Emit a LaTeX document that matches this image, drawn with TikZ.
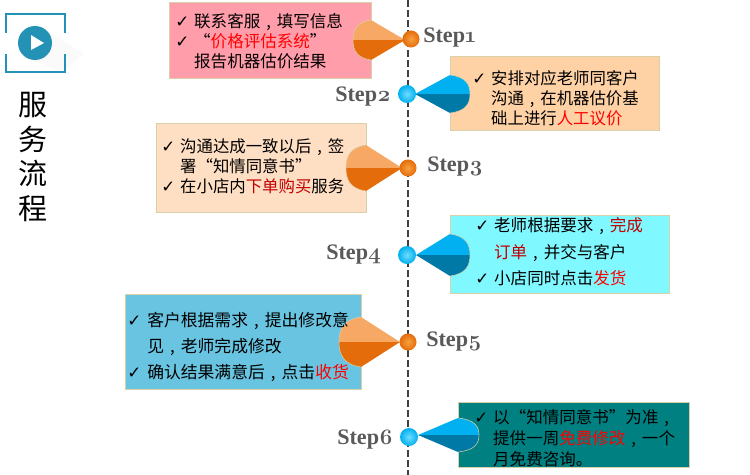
\documentclass[tikz,border=0pt]{standalone}
\usepackage{fontspec}
\usepackage{array}
\setmainfont{Liberation Serif}
\newfontfamily\cjk{Noto Sans CJK SC}
\newfontfamily\symb{DejaVu Sans}
\newfontfamily\oldnum[Numbers=OldStyle]{Latin Modern Roman}
\definecolor{boxa}{HTML}{FF9EAA}
\definecolor{boxb}{HTML}{FFD2A6}
\definecolor{boxc}{HTML}{FFDFC4}
\definecolor{boxd}{HTML}{80F8FF}
\definecolor{boxe}{HTML}{69C4E2}
\definecolor{boxf}{HTML}{008080}
\definecolor{rimcol}{HTML}{D9CFA8}
\definecolor{orglight}{HTML}{F7A864}
\definecolor{orgdark}{HTML}{E46C0A}
\definecolor{orgglow}{HTML}{F9A040}
\definecolor{blulight}{HTML}{00B0F0}
\definecolor{bludark}{HTML}{0079A6}
\definecolor{bluglow}{HTML}{70DCFF}
\definecolor{iconcol}{HTML}{2392B5}
\definecolor{stepcol}{HTML}{595959}
\definecolor{redhi}{HTML}{FF0000}
\definecolor{redlo}{HTML}{C00000}
\newcommand{\tick}{{\symb\fontsize{12.5}{12.5}\selectfont ✓}}
\newcommand{\cma}{\makebox[1em][c]{,}}
\newcommand{\hi}[1]{\textcolor{redhi}{#1}}
\newcommand{\lo}[1]{\textcolor{redlo}{#1}}
\newcommand{\stepnum}[1]{{\oldnum\bfseries #1}}
% tip x, corner x, bulge x, y, half height, light, dark
\newcommand{\drop}[7]{
    \fill[#6] (#1,#4) -- (#2,#4-#5) .. controls ({#2+0.8*(#3-#2)},{#4-#5+0.1*#5}) and (#3,{#4-0.5*#5}) .. (#3,#4) -- cycle;
    \fill[#7] (#1,#4) -- (#2,#4+#5) .. controls ({#2+0.8*(#3-#2)},{#4+#5-0.1*#5}) and (#3,{#4+0.5*#5}) .. (#3,#4) -- cycle;
    \draw[rimcol, thin] (#2,#4-#5) .. controls ({#2+0.8*(#3-#2)},{#4-#5+0.1*#5}) and (#3,{#4-0.5*#5}) .. (#3,#4)
        .. controls (#3,{#4+0.5*#5}) and ({#2+0.8*(#3-#2)},{#4+#5-0.1*#5}) .. (#2,#4+#5);
}

\begin{document}
\begin{tikzpicture}[x=0.75pt, y=-0.75pt,
                    panel/.style={rectangle, draw=rimcol, line width=0.7pt, inner sep=0pt},
                    lines/.style={anchor=west, inner sep=0pt, text=black},
                    steplabel/.style={anchor=west, inner sep=0pt, text=stepcol, font=\bfseries\fontsize{16.6}{18}\selectfont},
                    orgball/.style={circle, inner color=orgglow, outer color=orgdark, minimum size=12.8pt, inner sep=0pt},
                    bluball/.style={circle, inner color=bluglow, outer color=blulight, minimum size=13.5pt, inner sep=0pt}]
\useasboundingbox (0,0) rectangle (750,475);

% Icon
\fill[black!2] (46,30) -- (84,54) -- (62,72) -- (30,59) -- cycle;
\draw[iconcol, line width=0.9pt] (6,33) -- (6,14) -- (65,14) -- (65,33);
\draw[iconcol, line width=0.9pt] (6,54) -- (6,72) -- (65,72) -- (65,54);
\node[circle, fill=iconcol, minimum size=25.5pt, inner sep=0pt] (icon) at (35,43) {};
\fill[white] (31,35) -- (44,43) -- (31,50) -- cycle;

% Title
\node[align=center, inner sep=0pt, font=\cjk\fontsize{21.75}{26.2}\selectfont] (title) at (33,157) {服\\务\\流\\程};

% Center line
\coordinate (top) at (408,0);
\coordinate (bottom) at (408,475);
\draw[black!75, line width=1.2pt, dash pattern=on 5pt off 2.5pt] (top) -- (bottom);

% Panels
\foreach \n/\x/\y/\w/\h/\c in {1/270/40/151.5/57/boxa, 2/554.75/93/156.4/55.5/boxb, 3/261/167.75/157.5/66.4/boxc,
                               4/559.5/254/164.25/58.5/boxd, 5/243/341.5/177/71.25/boxe, 6/573.5/434.5/173.25/48.75/boxf} {
    \node[panel, fill=\c, minimum width=\w pt, minimum height=\h pt] (box\n) at (\x,\y) {};
}

% Drops
\drop{405}{371}{353}{40}{20}{orglight}{orgdark}
\drop{415}{450}{470}{94}{19}{blulight}{bludark}
\drop{402}{366}{346}{168}{23}{orglight}{orgdark}
\drop{416}{450}{470}{255}{21}{blulight}{bludark}
\drop{400}{361}{339}{342}{25}{orglight}{orgdark}
\drop{418}{458}{479}{435}{17}{blulight}{bludark}

% Balls
\node[orgball] (ball1) at (411,39) {};
\node[bluball] (ball2) at (407,94) {};
\node[orgball] (ball3) at (408,168) {};
\node[bluball] (ball4) at (407,255) {};
\node[orgball] (ball5) at (408,342) {};
\node[bluball] (ball6) at (409,437) {};

% Step labels
\node[steplabel] (step1) at (423,38) {Step\stepnum{1}};
\node[steplabel] (step2) at (335,97) {Step\stepnum{2}};
\node[steplabel] (step3) at (427,167) {Step\stepnum{3}};
\node[steplabel] (step4) at (326,255) {Step\stepnum{4}};
\node[steplabel] (step5) at (426,342) {Step\stepnum{5}};
\node[steplabel] (step6) at (337,440) {Step\stepnum{6}};

% Texts
\node[lines, font=\cjk\fontsize{12.4}{14.6}\selectfont] (text1) at (175,43.5) {%
    \begin{tabular}{@{}p{14.2pt}@{}l@{}}
    \tick & 联系客服\cma 填写信息\\
    \tick & “\hi{价格评估系统}”\\
     & 报告机器估价结果
    \end{tabular}};
\node[lines, font=\cjk\fontsize{12.3}{15}\selectfont] (text2) at (472,100) {%
    \begin{tabular}{@{}p{14.2pt}@{}l@{}}
    \tick & 安排对应老师同客户\\
     & 沟通\cma 在机器估价基\\
     & 础上进行\hi{人工议价}
    \end{tabular}};
\node[lines, font=\cjk\fontsize{12.3}{15.3}\selectfont] (text3) at (161,168.5) {%
    \begin{tabular}{@{}p{14.2pt}@{}l@{}}
    \tick & 沟通达成一致以后\cma 签\\
     & 署“知情同意书”\\
    \tick & 在小店内\lo{下单购买}服务
    \end{tabular}};
\node[lines, font=\cjk\fontsize{12.4}{19.8}\selectfont] (text4) at (475,253) {%
    \begin{tabular}{@{}p{14.2pt}@{}l@{}}
    \tick & 老师根据要求\cma \lo{完成}\\
     & \lo{订单}\cma 并交与客户\\
    \tick & 小店同时点击\hi{发货}
    \end{tabular}};
\node[lines, font=\cjk\fontsize{12.6}{19.5}\selectfont] (text5) at (127,347) {%
    \begin{tabular}{@{}p{15pt}@{}l@{}}
    \tick & 客户根据需求\cma 提出修改意\\
     & 见\cma 老师完成修改\\
    \tick & 确认结果满意后\cma 点击\hi{收货}
    \end{tabular}};
\node[lines, font=\cjk\fontsize{12.4}{15.8}\selectfont] (text6) at (474,440) {%
    \begin{tabular}{@{}p{14.2pt}@{}l@{}}
    \tick & 以“知情同意书”为准\cma \\
     & 提供一周\hi{免费修改}\cma 一个\\
     & 月免费咨询。
    \end{tabular}};
\end{tikzpicture}
\end{document}
